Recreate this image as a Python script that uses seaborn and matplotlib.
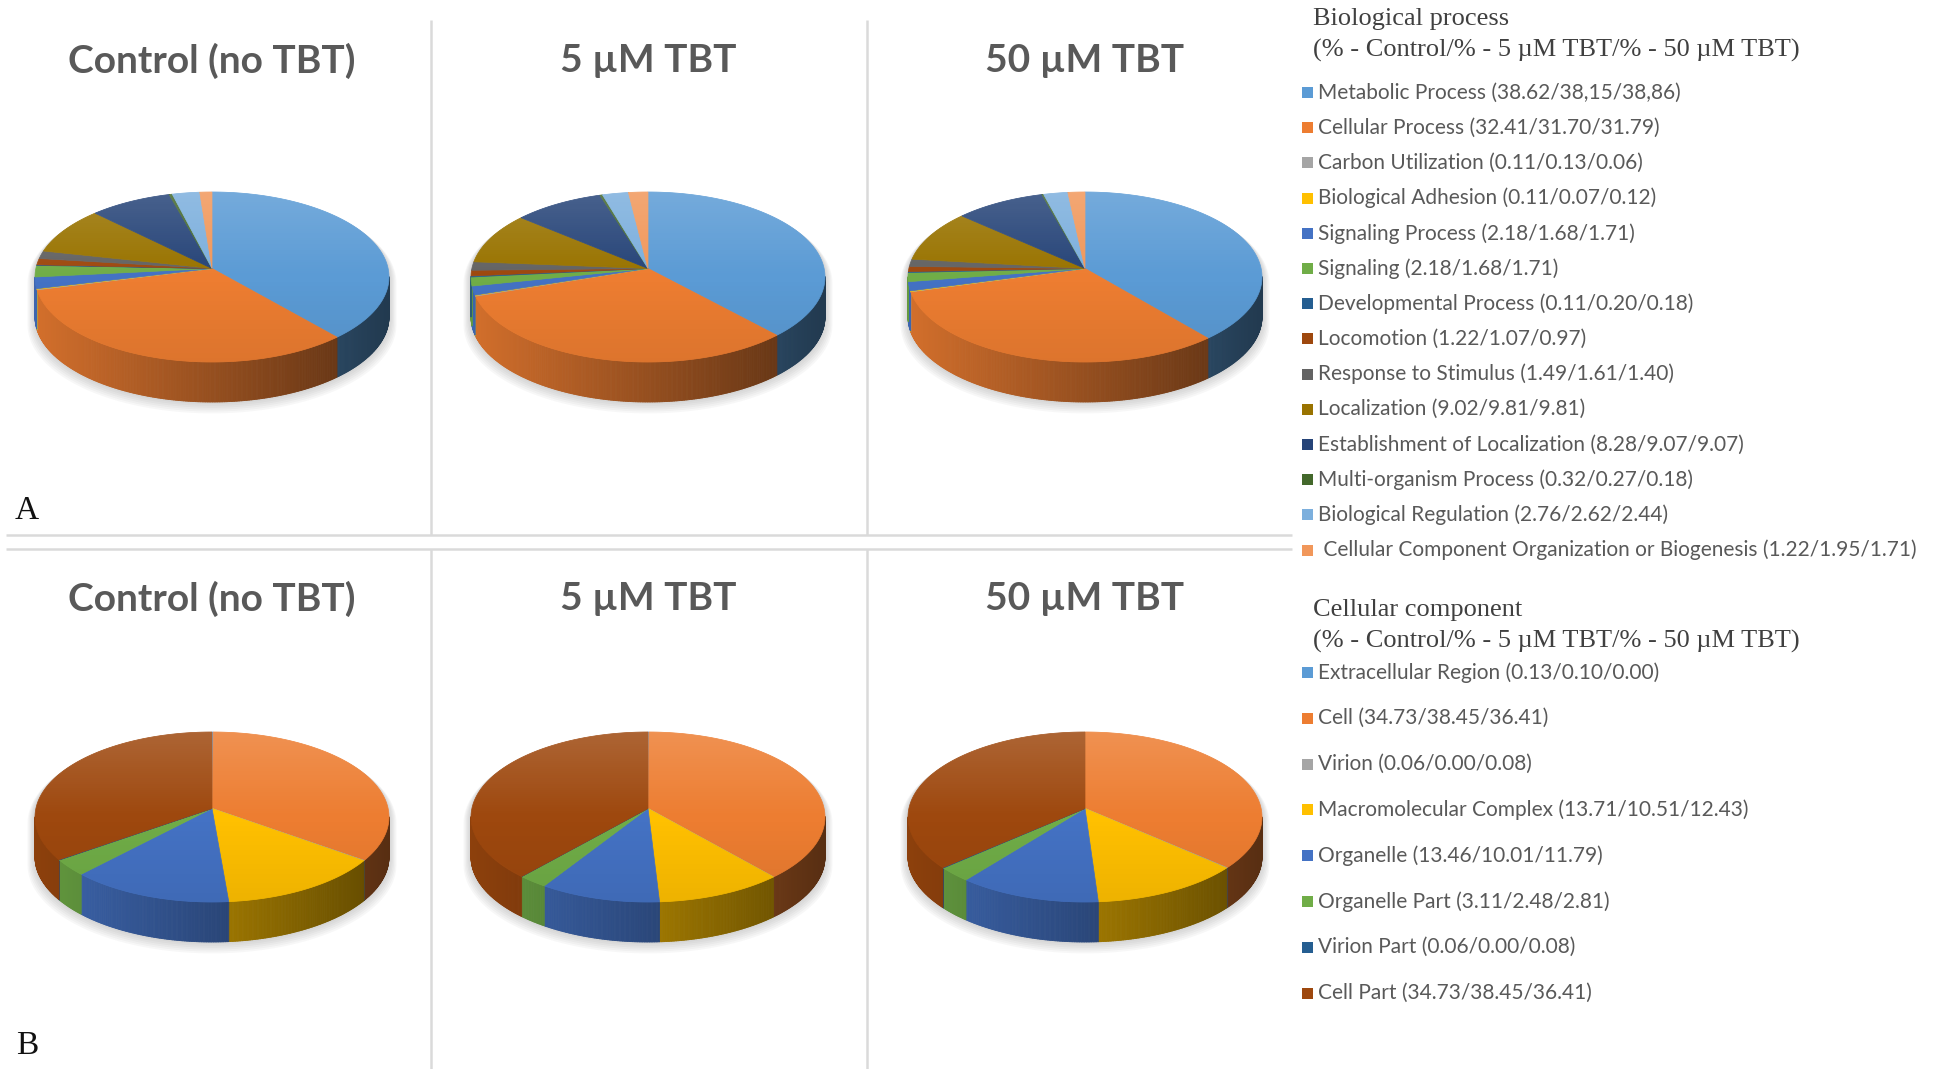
import numpy as np
import matplotlib
matplotlib.use("Agg")
import matplotlib.pyplot as plt
import matplotlib.colors as mcolors
from matplotlib.collections import PolyCollection
from matplotlib.patches import Circle, Polygon, Rectangle
from matplotlib.lines import Line2D
from matplotlib.path import Path
from matplotlib.transforms import Transform
import seaborn as sns

sns.set_theme(style="white")
plt.rcParams['font.family'] = ['Lato', 'DejaVu Sans']

# ---------------- data ----------------
conditions = ["Control (no TBT)", "5 µM TBT", "50 µM TBT"]

bp_labels = [
    "Metabolic Process (38.62/38,15/38,86)",
    "Cellular Process (32.41/31.70/31.79)",
    "Carbon Utilization (0.11/0.13/0.06)",
    "Biological Adhesion (0.11/0.07/0.12)",
    "Signaling Process (2.18/1.68/1.71)",
    "Signaling (2.18/1.68/1.71)",
    "Developmental Process (0.11/0.20/0.18)",
    "Locomotion (1.22/1.07/0.97)",
    "Response to Stimulus (1.49/1.61/1.40)",
    "Localization (9.02/9.81/9.81)",
    "Establishment of Localization (8.28/9.07/9.07)",
    "Multi-organism Process (0.32/0.27/0.18)",
    "Biological Regulation (2.76/2.62/2.44)",
    " Cellular Component Organization or Biogenesis (1.22/1.95/1.71)",
]
bp_control = [38.62, 32.41, 0.11, 0.11, 2.18, 2.18, 0.11, 1.22, 1.49, 9.02, 8.28, 0.32, 2.76, 1.22]
bp_5um = [38.15, 31.70, 0.13, 0.07, 1.68, 1.68, 0.20, 1.07, 1.61, 9.81, 9.07, 0.27, 2.62, 1.95]
bp_50um = [38.86, 31.79, 0.06, 0.12, 1.71, 1.71, 0.18, 0.97, 1.40, 9.81, 9.07, 0.18, 2.44, 1.71]
bp_colors = ["#5B9BD5", "#ED7D31", "#A5A5A5", "#FFC000", "#4472C4", "#70AD47", "#255E91",
             "#9E480E", "#636363", "#997300", "#264478", "#43682B", "#7CAFDD", "#F1975A"]

cc_labels = [
    "Extracellular Region (0.13/0.10/0.00)",
    "Cell (34.73/38.45/36.41)",
    "Virion (0.06/0.00/0.08)",
    "Macromolecular Complex (13.71/10.51/12.43)",
    "Organelle (13.46/10.01/11.79)",
    "Organelle Part (3.11/2.48/2.81)",
    "Virion Part (0.06/0.00/0.08)",
    "Cell Part (34.73/38.45/36.41)",
]
cc_control = [0.13, 34.73, 0.06, 13.71, 13.46, 3.11, 0.06, 34.73]
cc_5um = [0.10, 38.45, 0.00, 10.51, 10.01, 2.48, 0.00, 38.45]
cc_50um = [0.00, 36.41, 0.08, 12.43, 11.79, 2.81, 0.08, 36.41]
cc_colors = ["#5B9BD5", "#ED7D31", "#A5A5A5", "#FFC000", "#4472C4", "#70AD47", "#255E91", "#9E480E"]

bp_header = ["Biological process", "(% - Control/% - 5 µM TBT/% - 50 µM TBT)"]
cc_header = ["Cellular component", "(% - Control/% - 5 µM TBT/% - 50 µM TBT)"]

# ---------------- figure ----------------
W, H, DPI = 1939, 1069, 100
fig = plt.figure(figsize=(W / DPI, H / DPI), dpi=DPI)
fig.patch.set_facecolor("white")


def fx(x):
    return x / W


def fy(y):
    return 1 - y / H


RX, RY, DEPTH = 177, 85, 40
D = DEPTH / RY
PAD = 0.14
TILT = 0.10   # perspective: the far half of the disc is foreshortened


class Tilt(Transform):
    """Projective tilt that keeps the unit circle but lifts its centre."""
    input_dims = output_dims = 2
    is_separable = False
    has_inverse = False

    def __init__(self, a):
        super().__init__()
        self.a = a

    def transform_non_affine(self, values):
        v = np.asarray(values, float)
        x, y = v[:, 0], v[:, 1]
        den = 1 + self.a * y
        return np.column_stack([np.sqrt(1 - self.a ** 2) * x / den, (y + self.a) / den])

    def transform_path_non_affine(self, path):
        pts = []
        for seg, code in path.iter_bezier(simplify=False, curves=True):
            cp = seg.control_points
            if code == Path.MOVETO:
                pts.append(cp[0])
            elif len(cp) > 2:
                ts = np.linspace(0, 1, 25)[1:]
                pts.extend(seg(ts))
            else:
                pts.append(cp[-1])
        pts = np.asarray(pts)
        codes = np.full(len(pts), Path.LINETO)
        codes[0] = Path.MOVETO
        return Path(self.transform_non_affine(pts), codes)


def pie3d(cx, cy, values, colors):
    left = cx - (1 + PAD) * RX
    top = cy - (1 + PAD) * RY
    bottom = cy + (1 + D + PAD) * RY
    ax = fig.add_axes([fx(left), fy(bottom), 2 * (1 + PAD) * RX / W, (bottom - top) / H])
    ax.set_axis_off()
    tilt = Tilt(TILT)

    vals = np.asarray(values, float)
    edges = np.concatenate([[0.0], np.cumsum(vals / vals.sum())])
    palette = sns.color_palette(colors)

    # soft drop shadow around the disc
    t = np.linspace(0, 2 * np.pi, 721)
    sil_x = np.cos(t)
    sil_y = np.where(np.sin(t) >= 0, np.sin(t), np.sin(t) - D)
    for k in range(1, 7):
        s = 1 + 0.007 * k
        ax.add_patch(Polygon(np.column_stack([sil_x * s, sil_y * s - 0.012 * k]),
                             closed=True, facecolor="#6e6e6e", edgecolor="none",
                             alpha=0.05, zorder=1))

    # side wall of the disc, shaded from left to right
    polys, cols = [], []
    step = np.radians(0.5)
    for i, (a, b) in enumerate(zip(edges[:-1], edges[1:])):
        if b - a <= 0:
            continue
        th1 = np.pi / 2 - 2 * np.pi * a
        th2 = np.pi / 2 - 2 * np.pi * b
        n = max(2, int(np.ceil((th1 - th2) / step)))
        ths = np.linspace(th1, th2, n + 1)
        rim = tilt.transform_non_affine(np.column_stack([np.cos(ths), np.sin(ths)]))
        base = np.array(mcolors.to_rgb(palette[i]))
        for (x1, y1), (x2, y2) in zip(rim[:-1], rim[1:]):
            if min(y1, y2) > 0.0:
                continue
            y1, y2 = min(y1, 0.02), min(y2, 0.02)
            polys.append([(x1, y1), (x2, y2), (x2, y2 - D), (x1, y1 - D)])
            shade = 0.63 - 0.26 * 0.5 * (x1 + x2)
            cols.append(np.clip(base * shade, 0, 1))
    ax.add_collection(PolyCollection(polys, facecolors=cols, edgecolors=cols,
                                     linewidths=0.6, zorder=2))

    # top face
    wedges, _ = ax.pie(vals, colors=palette, startangle=90, counterclock=False,
                       radius=1, center=(0, 0), normalize=True,
                       wedgeprops=dict(linewidth=0.5))
    for w in wedges:
        w.set_edgecolor(w.get_facecolor())
        w.set_zorder(3)
        w.set_transform(tilt + ax.transData)

    # gentle light falloff across the top face
    g = np.linspace(1, -1, 256)
    rgba = np.zeros((256, 2, 4))
    rgba[g > 0, :, :3] = 1.0
    rgba[:, :, 3] = np.where(g > 0, 0.16 * g, 0.07 * (-g))[:, None]
    im = ax.imshow(rgba, extent=(-1, 1, -1, 1), origin="upper", aspect="auto",
                   zorder=4, interpolation="bilinear")
    im.set_clip_path(Circle((0, 0), 1, transform=ax.transData))

    ax.set_aspect("auto")
    ax.set_xlim(-1 - PAD, 1 + PAD)
    ax.set_ylim(-1 - D - PAD, 1 + PAD)
    return ax


pie_x = [212, 648, 1085]
top_cy, bot_cy = 277, 817
title_y = [61, 599]

for cx, vals, name in zip(pie_x, [bp_control, bp_5um, bp_50um], conditions):
    pie3d(cx, top_cy, vals, bp_colors)
    fig.text(fx(cx), fy(title_y[0]), name, ha="center", va="center",
             fontsize=28, fontweight="bold", color="#595959")

for cx, vals, name in zip(pie_x, [cc_control, cc_5um, cc_50um], conditions):
    pie3d(cx, bot_cy, vals, cc_colors)
    fig.text(fx(cx), fy(title_y[1]), name, ha="center", va="center",
             fontsize=28, fontweight="bold", color="#595959")

# panel separators
sep = dict(transform=fig.transFigure, color="#dadada", lw=1.8, solid_capstyle="butt")
for x in (431, 867):
    fig.add_artist(Line2D([fx(x), fx(x)], [fy(20), fy(535)], **sep))
    fig.add_artist(Line2D([fx(x), fx(x)], [fy(549), fy(1069)], **sep))
for y in (535, 549):
    fig.add_artist(Line2D([fx(6), fx(1292)], [fy(y), fy(y)], **sep))

# panel letters
fig.text(fx(27), fy(511), "A", ha="center", va="center", fontsize=24,
         family="Liberation Serif", color="#111111")
fig.text(fx(27), fy(1046), "B", ha="center", va="center", fontsize=24,
         family="Liberation Serif", color="#111111")


def legend_block(header, header_y, labels, colors, first_y, spacing):
    for txt, y in zip(header, header_y):
        fig.text(fx(1313), fy(y), txt, ha="left", va="center", fontsize=19,
                 family="Liberation Serif", color="#404040")
    for i, (lab, col) in enumerate(zip(labels, colors)):
        y = first_y + i * spacing
        fig.add_artist(Rectangle((fx(1302), fy(y + 5.5)), 11 / W, 11 / H,
                                 transform=fig.transFigure, facecolor=col,
                                 edgecolor="none"))
        fig.text(fx(1318), fy(y), lab, ha="left", va="center", fontsize=15,
                 color="#595959")


legend_block(bp_header, [18.5, 50.5], bp_labels, bp_colors, 92.5, 35.2)
legend_block(cc_header, [610, 641], cc_labels, cc_colors, 672.5, 45.8)

fig.savefig("out.png", dpi=DPI, facecolor="white")
